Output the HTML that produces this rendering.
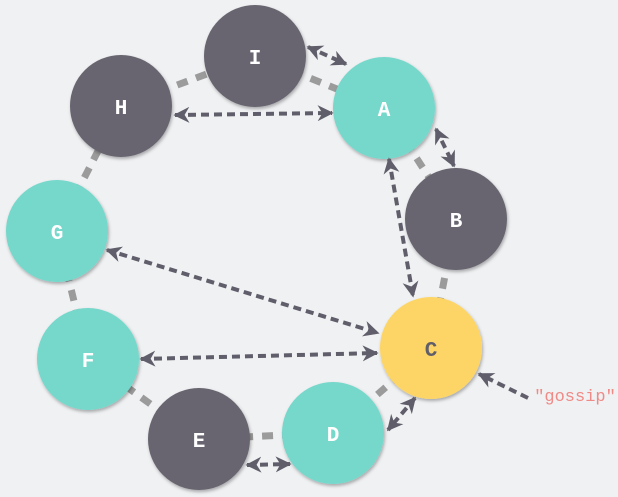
<!DOCTYPE html>
<html><head><style>
html,body{margin:0;padding:0;background:#f0f1f3;}
svg{display:block;}
text{font-family:"Liberation Mono",monospace;font-weight:bold;font-size:21px;fill:#fff;text-anchor:middle;}
</style></head><body>
<svg width="618" height="497" viewBox="0 0 618 497">
<defs>
<marker id="ah" viewBox="0 0 10 10" refX="9" refY="5" markerWidth="4" markerHeight="4" orient="auto-start-reverse" markerUnits="strokeWidth">
<path d="M0,0 L10,5 L0,10 L3,5 z" fill="#5f5e6a"/></marker>
<filter id="sh" x="-20%" y="-20%" width="140%" height="140%"><feDropShadow dx="1" dy="2" stdDeviation="1.5" flood-color="#000" flood-opacity="0.3"/></filter>
</defs>
<g stroke="#9b9b9b" stroke-width="7" stroke-dasharray="11 9" fill="none">
<line x1="255" y1="56" x2="384" y2="108"/>
<line x1="384" y1="108" x2="456" y2="219"/>
<line x1="456" y1="219" x2="431" y2="348"/>
<line x1="431" y1="348" x2="333" y2="433"/>
<line x1="333" y1="433" x2="199" y2="439"/>
<line x1="199" y1="439" x2="88" y2="359"/>
<line x1="88" y1="359" x2="57" y2="231"/>
<line x1="57" y1="231" x2="121" y2="106"/>
<line x1="121" y1="106" x2="255" y2="56"/>
</g>
<g filter="url(#sh)">
<circle cx="255" cy="56" r="51" fill="#67656f"/>
<circle cx="121" cy="106" r="51" fill="#67656f"/>
<circle cx="384" cy="108" r="51" fill="#76d7cb"/>
<circle cx="456" cy="219" r="51" fill="#67656f"/>
<circle cx="57" cy="231" r="51" fill="#76d7cb"/>
<circle cx="431" cy="348" r="51" fill="#fdd566"/>
<circle cx="88" cy="359" r="51" fill="#76d7cb"/>
<circle cx="199" cy="439" r="51" fill="#67656f"/>
<circle cx="333" cy="433" r="51" fill="#76d7cb"/>
</g>
<g stroke="#5f5e6a" stroke-width="4" stroke-dasharray="8 5" fill="none" marker-start="url(#ah)" marker-end="url(#ah)">
<line x1="308" y1="47" x2="346" y2="64"/>
<line x1="175" y1="115" x2="332" y2="113"/>
<line x1="436" y1="129" x2="454" y2="166"/>
<line x1="389" y1="159" x2="413" y2="296"/>
<line x1="107" y1="250" x2="378" y2="333"/>
<line x1="141" y1="359" x2="377" y2="353"/>
<line x1="415" y1="398" x2="388" y2="430"/>
<line x1="247" y1="465" x2="290" y2="464"/>
</g>
<line x1="528" y1="398" x2="479" y2="374" stroke="#5f5e6a" stroke-width="4" stroke-dasharray="8 5" marker-end="url(#ah)"/>
<text x="255" y="64">I</text>
<text x="121" y="114">H</text>
<text x="384" y="116">A</text>
<text x="456" y="227">B</text>
<text x="57" y="239">G</text>
<text x="431" y="356" style="fill:#5f5e6a">C</text>
<text x="88" y="367">F</text>
<text x="199" y="447">E</text>
<text x="333" y="441">D</text>
<text x="575" y="401" style="font-weight:normal;font-size:17px;fill:#ef8a86">"gossip"</text>
</svg>
</body></html>
